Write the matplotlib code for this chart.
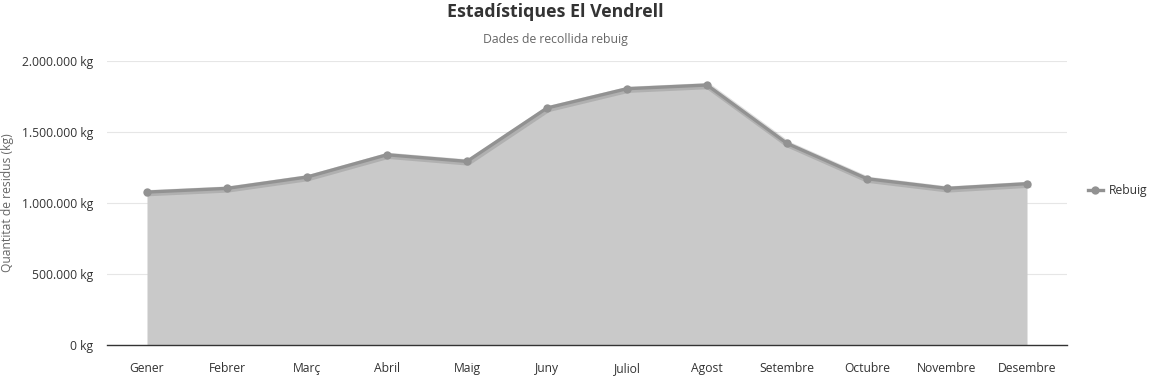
import matplotlib
matplotlib.use("Agg")
import matplotlib.pyplot as plt
import matplotlib.patheffects as pe
from matplotlib.ticker import FuncFormatter
from matplotlib.lines import Line2D

plt.rcParams.update({
    "font.family": ["Open Sans", "DejaVu Sans"],
    "font.size": 8,
})

MONTHS = ["Gener", "Febrer", "Març", "Abril", "Maig", "Juny", "Juliol",
          "Agost", "Setembre", "Octubre", "Novembre", "Desembre"]
REBUIG = [1077000, 1103000, 1183000, 1340000, 1293000, 1669000, 1805000,
          1831000, 1420000, 1171000, 1103000, 1136000]
Y_TICKS = [0, 500000, 1000000, 1500000, 2000000]

LINE_C = "#929292"
FILL_C = "#c9c9c9"

W, H = 1155, 377
fig = plt.figure(figsize=(W / 100, H / 100), dpi=100)
ax = fig.add_axes([107 / W, (H - 345) / H, (1067 - 107) / W, (345 - 61) / H])

x = list(range(len(MONTHS)))
ax.fill_between(x, 0, REBUIG, color=FILL_C, linewidth=0, zorder=2)
shadow = [pe.SimpleLineShadow(offset=(0.8, -0.8), shadow_color="#000000", alpha=0.12, linewidth=4.5),
          pe.Normal()]
ax.plot(x, REBUIG, color=LINE_C, linewidth=2.4, zorder=3, path_effects=shadow)
ax.plot(x, REBUIG, linestyle="none", marker="o", markersize=6,
        markerfacecolor=LINE_C, markeredgewidth=0, zorder=4)

ax.set_xlim(-0.5, 11.5)
ax.set_ylim(0, 2000000)
ax.set_yticks(Y_TICKS)
ax.yaxis.set_major_formatter(FuncFormatter(lambda v, p: f"{int(v):,} kg".replace(",", ".")))
ax.set_xticks(x)
ax.set_xticklabels(MONTHS)
ax.tick_params(axis="both", length=0, labelsize=8.7, colors="#333333")
ax.tick_params(axis="x", pad=12.5)
ax.tick_params(axis="y", pad=10)
ax.grid(axis="y", color="#e6e6e6", linewidth=0.8, zorder=0)
ax.set_axisbelow(True)
for s in ["top", "right", "left"]:
    ax.spines[s].set_visible(False)
ax.spines["bottom"].set_color("#333333")
ax.spines["bottom"].set_linewidth(1.0)
ax.spines["bottom"].set_zorder(5)

ax.set_ylabel("Quantitat de residus (kg)", color="#666666", fontsize=8.7)
ax.yaxis.set_label_coords(-93 / 960, 0.5)

fig.text(555 / W, 1 - 12 / H, "Estadístiques El Vendrell", ha="center", va="center",
         fontsize=12.8, fontweight="bold", color="#333333")
fig.text(555 / W, 1 - 39 / H, "Dades de recollida rebuig", ha="center", va="center",
         fontsize=8.8, color="#666666")

handle = Line2D([], [], color=LINE_C, linewidth=2.4, marker="o", markersize=6, markeredgewidth=0)
leg = fig.legend([handle], ["Rebuig"], loc="center left", bbox_to_anchor=(1088 / W, 1 - 191 / H),
                 frameon=False, fontsize=8.7, handlelength=1.2, handletextpad=0.55,
                 borderaxespad=0, borderpad=0)
for t in leg.get_texts():
    t.set_color("#333333")

fig.savefig("out.png", dpi=100)
